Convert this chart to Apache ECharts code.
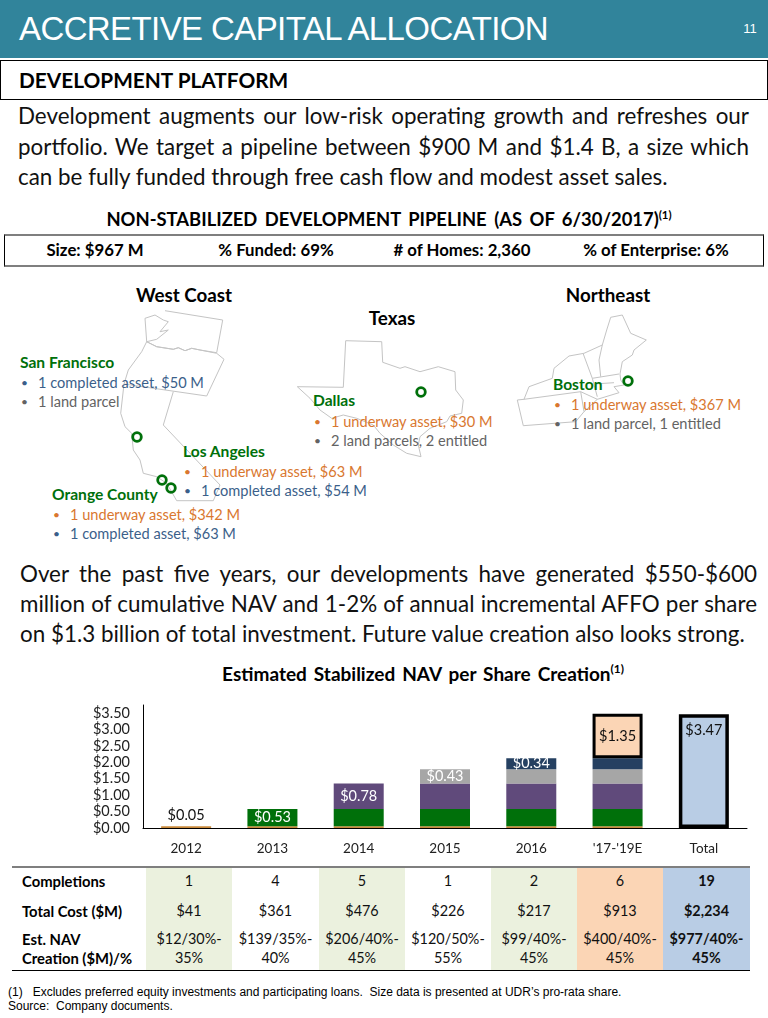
<!DOCTYPE html>
<html>
<head>
<meta charset="utf-8">
<script src="https://cdn.jsdelivr.net/npm/echarts@6/dist/echarts.min.js"></script>
<style>
html,body{margin:0;padding:0;background:#fff;width:768px;height:1018px;overflow:hidden}
body{position:relative;font-family:Lato,"Open Sans",sans-serif;color:#000}
.t{position:absolute;white-space:nowrap;transform:translateY(-50%);line-height:1.1}
.c{transform:translate(-50%,-50%);text-align:center}
.b{font-weight:700}
.j{text-align:justify;text-align-last:justify;white-space:normal}
sup{font-size:62%;line-height:0;vertical-align:super}
#chart{position:absolute;left:80px;top:695px;width:688px;height:170px}
#maps{position:absolute;left:0;top:0}
.box{position:absolute;box-sizing:border-box}
</style>
</head>
<body>
<div class="box" style="left:0;top:0;width:768px;height:58px;background:#31849B"></div>
<div class="t" style="left:19px;top:29px;font:33px 'Liberation Sans',sans-serif;letter-spacing:-0.6px;color:#fff">ACCRETIVE CAPITAL ALLOCATION</div>
<div class="t c" style="left:750px;top:28px;font:13px 'Liberation Sans',sans-serif;color:#fff">11</div>
<div class="box" style="left:0;top:60px;width:768px;height:40px;border:1px solid #000"></div>
<div class="t b" style="left:19px;top:80px;font-size:20.8px">DEVELOPMENT PLATFORM</div>
<div class="t c b" style="left:389px;top:219px;font-size:18.4px;word-spacing:3px">NON-STABILIZED DEVELOPMENT PIPELINE (AS OF 6/30/2017)<sup>(1)</sup></div>
<div class="box" style="left:4px;top:234px;width:760px;height:33px;border-top:2px solid #7f7f7f;border-bottom:2px solid #7f7f7f;border-left:1px solid #000;border-right:1px solid #000"></div>
<svg id="maps" width="768" height="1018"></svg>
<div class="t c b" style="left:423px;top:674px;font-size:19px;word-spacing:2.4px">Estimated Stabilized NAV per Share Creation<sup>(1)</sup></div>
<div id="chart"></div>
<div class="t" style="left:8px;top:992px;font:12px 'Liberation Sans',sans-serif;white-space:pre">(1)   Excludes preferred equity investments and participating loans.  Size data is presented at UDR’s pro-rata share.</div>
<div class="t" style="left:8px;top:1006px;font:12px 'Liberation Sans',sans-serif;white-space:pre">Source:  Company documents.</div>
<script>
// ---- chart data ----
var categories = ['2012','2013','2014','2015','2016',"'17-'19E",'Total'];
var yTicks = [0,0.5,1,1.5,2,2.5,3,3.5];
var v2012  = [0.05,0.05,0.05,0.05,0.05,0.05,null];
var v2013  = [null,0.53,0.53,0.53,0.53,0.53,null];
var v2014  = [null,null,0.78,0.78,0.78,0.78,null];
var v2015  = [null,null,null,0.43,0.43,0.43,null];
var v2016  = [null,null,null,null,0.34,0.34,null];
var v1719  = [null,null,null,null,null,1.35,null];
var vTotal = [null,null,null,null,null,null,3.47];

// ---- table data ----
var rowCompletions = ['1','4','5','1','2','6','19'];
var rowCost = ['$41','$361','$476','$226','$217','$913','$2,234'];
var rowNavA = ['$12/30%-','$139/35%-','$206/40%-','$120/50%-','$99/40%-','$400/40%-','$977/40%-'];
var rowNavB = ['35%','40%','45%','55%','45%','45%','45%'];

// ---- text ----
var para1 = ['Development augments our low-risk operating growth and refreshes our',
 'portfolio. We target a pipeline between $900 M and $1.4 B, a size which',
 'can be fully funded through free cash flow and modest asset sales.'];
var para2 = ['Over the past five years, our developments have generated $550-$600',
 'million of cumulative NAV and 1-2% of annual incremental AFFO per share',
 'on $1.3 billion of total investment. Future value creation also looks strong.'];
var stats = ['Size: $967 M','% Funded: 69%','# of Homes: 2,360','% of Enterprise: 6%'];

function add(parent,html,cls,style){
  var d=document.createElement('div');d.className=cls;d.style.cssText=style;d.innerHTML=html;
  parent.appendChild(d);return d;
}
var BODY=document.body;
para1.forEach(function(s,i){
  add(BODY,s,'t'+(i<2?' j':''),'left:18px;width:'+(i<2?731:740)+'px;top:'+(116+i*30.5)+'px;font-size:22.4px;color:#111');
});
para2.forEach(function(s,i){
  add(BODY,s,'t'+(i<2?' j':''),'left:20px;width:'+(i<2?737:740)+'px;top:'+(574+i*30)+'px;font-size:22.4px;color:#111');
});
var statX=[95,276,462,656];
stats.forEach(function(s,i){add(BODY,s,'t c b','left:'+statX[i]+'px;top:250px;font-size:16.8px');});

// region headings and lists
[['West Coast',184,295],['Texas',392,318],['Northeast',608,295]].forEach(function(r){
  add(BODY,r[0],'t c b','left:'+r[1]+'px;top:'+r[2]+'px;font-size:18.8px');
});
var OR='#D9772F',BL='#3B5F8A',GR='#636363',GN='#00700A';
var lists=[
 ['San Francisco',20,363,38,[['1 completed asset, $50 M',BL,383],['1 land parcel',GR,402]]],
 ['Los Angeles',183,452,201,[['1 underway asset, $63 M',OR,472],['1 completed asset, $54 M',BL,491]]],
 ['Orange County',52,495,70,[['1 underway asset, $342 M',OR,515],['1 completed asset, $63 M',BL,534]]],
 ['Dallas',313,401,331,[['1 underway asset, $30 M',OR,422],['2 land parcels, 2 entitled',GR,441]]],
 ['Boston',553,385,571,[['1 underway asset, $367 M',OR,405],['1 land parcel, 1 entitled',GR,424]]]
];

// map outlines (decorative)
var shapes=[
 '495,92 668,120 650,218 600,210 575,205 555,212 535,203 520,208 470,200 440,185 435,115 465,105 490,120 505,125 480,155 505,150 470,178 440,185',
 '440,185 470,200 520,208 535,203 555,212 575,205 600,210 650,220 672,238 620,348 372,312 385,270 425,215 440,185',
 '372,312 362,400 375,440 395,460 400,510 420,540 430,580 470,590 500,610 530,662 640,662 660,615 490,435 520,335'
];
var shapes2=['167,32 275,35 278,97 330,115 345,110 390,125 445,110 495,125 497,180 520,210 515,250 480,258 470,275 420,295 390,320 385,345 393,380 350,370 310,345 270,310 250,285 200,265 160,255 125,265 90,240 60,205 22,170 160,172 167,32'];
var shapes3=[
 '680,112 715,105 740,160 787,180 750,210 745,225 715,245 708,282 710,300 720,315 690,320 705,338 640,358 600,395 575,425 418,437 400,360 420,358 435,320 505,295 510,265 555,228 600,220 655,195 668,150 680,112',
 '420,358 590,335 640,358','598,222 625,295 640,350','655,195 645,240 650,290','625,295 705,282','630,312 690,308','590,335 600,395'
];
var svg='';
function poly(p,ox,oy){
  var pts=p.split(' ').map(function(q){var a=q.split(',');return (a[0]/3+ox).toFixed(1)+','+(a[1]/3+oy).toFixed(1);}).join(' ');
  return '<polyline points="'+pts+'" fill="none" stroke="#C4C4C4" stroke-width="1"/>';
}
shapes.forEach(function(p){svg+=poly(p,0,280);});
shapes2.forEach(function(p){svg+=poly(p,290,330);});
shapes3.forEach(function(p){svg+=poly(p,384,280);});
[[137,437],[162,480],[171,488],[421,392],[628,381]].forEach(function(c){
  svg+='<circle cx="'+c[0]+'" cy="'+c[1]+'" r="4.3" fill="none" stroke="#00700A" stroke-width="2.8"/>';
});
document.getElementById('maps').innerHTML=svg;

lists.forEach(function(l){
  add(BODY,l[0],'t b','left:'+l[1]+'px;top:'+l[2]+'px;font-size:15.6px;color:'+GN);
  l[4].forEach(function(it){
    add(BODY,'•','t','left:'+(l[3]-17)+'px;top:'+it[2]+'px;font-size:12px;color:'+it[1]);
    add(BODY,it[0],'t','left:'+l[3]+'px;top:'+it[2]+'px;font-size:14.6px;color:'+it[1]);
  });
});

// table
var colX=[146,232,319,405,491,577,663,750];
var fills=['#EBF1DE','#fff','#EBF1DE','#fff','#EBF1DE','#FBD5B5','#B9CDE5'];
add(BODY,'','box','left:12px;top:866px;width:738px;height:105px;border-top:2px solid #7f7f7f;border-bottom:1px solid #000');
fills.forEach(function(f,i){add(BODY,'','box','left:'+colX[i]+'px;top:868px;width:'+(colX[i+1]-colX[i])+'px;height:102px;background:'+f);});
[['Completions',881],['Total Cost ($M)',911],['Est. NAV',939],['Creation ($M)/%',958]].forEach(function(r){
  add(BODY,r[0],'t b','left:22px;top:'+r[1]+'px;font-size:14.8px');
});
function row(vals,y){
  vals.forEach(function(v,i){
    add(BODY,v,'t c'+(i==6?' b':''),'left:'+((colX[i]+colX[i+1])/2)+'px;top:'+y+'px;font-size:14.4px;color:#111');
  });
}
row(rowCompletions,881);row(rowCost,911);row(rowNavA,939);row(rowNavB,958);

// chart
var chart=echarts.init(document.getElementById('chart'),null,{renderer:'canvas'});
var font='Lato';
function mk(name,data,color,own,labelCfg,border){
  return {
    name:name,type:'bar',stack:name==='Total'?'t':'s',data:data.map(function(v,i){
      if(v===null) return null;
      return {value:v,label:{show:i===own}};
    }),
    barWidth:50,barGap:'-100%',
    itemStyle:Object.assign({color:color},border?{borderColor:'#000',borderWidth:border}:{}),
    label:Object.assign({formatter:function(p){return '$'+Number(p.value).toFixed(2);},fontFamily:font,fontSize:14.5,color:'#fff',position:'inside'},labelCfg||{}),
    silent:true,animation:false
  };
}
chart.setOption({
  animation:false,
  grid:{left:63,right:21,top:10,bottom:37},
  xAxis:{type:'category',data:categories,axisTick:{show:false},
    axisLine:{lineStyle:{color:'#000',width:1}},
    axisLabel:{fontFamily:font,fontSize:13.5,color:'#222',margin:14}},
  yAxis:{type:'value',min:0,max:3.75,interval:0.5,splitLine:{show:false},
    axisLine:{show:true,lineStyle:{color:'#000',width:1}},axisTick:{show:false},
    axisLabel:{fontFamily:font,fontSize:14.5,color:'#222',margin:13,showMaxLabel:false,
      formatter:function(v){return yTicks.indexOf(v)<0?'':'$'+v.toFixed(2);}}},
  series:[
    mk('2012',v2012,'#C98A3C',0,{position:'top',color:'#111',distance:4}),
    mk('2013',v2013,'#00700A',1),
    mk('2014',v2014,'#604A7B',2),
    mk('2015',v2015,'#A6A6A6',3),
    mk('2016',v2016,'#254061',4),
    mk('1719',v1719,'#FBD5B5',5,{color:'#111'},3),
    mk('Total',vTotal,'#B9CDE5',6,{color:'#111',position:'insideTop',distance:9},3.5)
  ]
});
</script>
</body>
</html>
